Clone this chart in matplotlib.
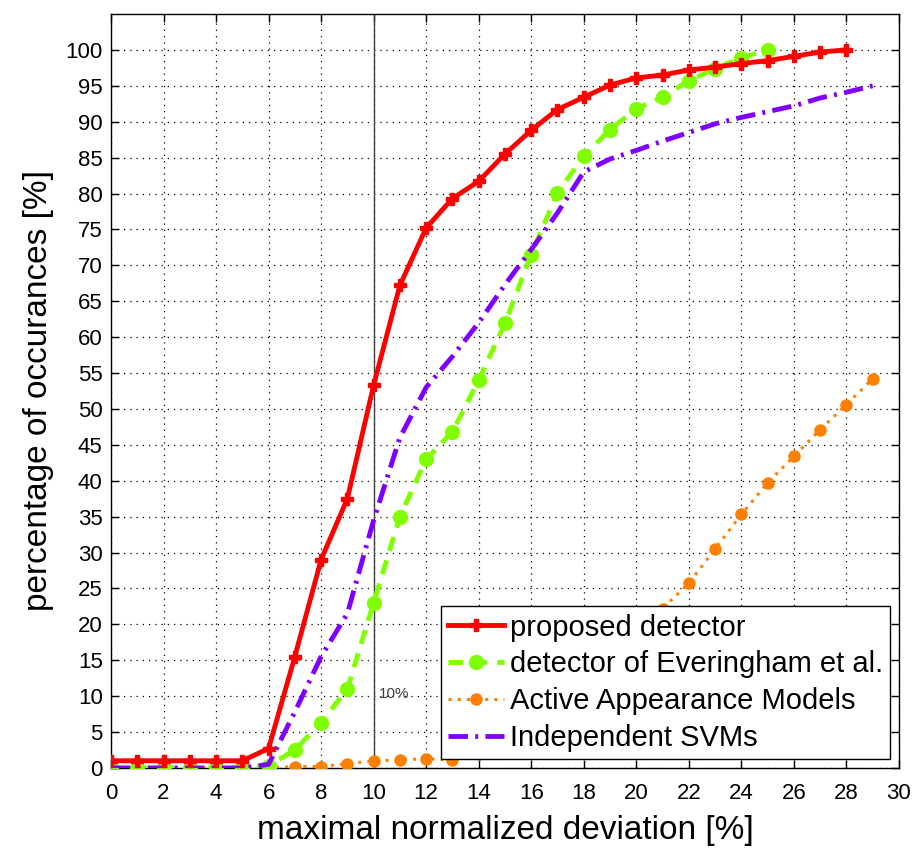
import numpy as np
import matplotlib
matplotlib.use("Agg")
import matplotlib.pyplot as plt

plt.rcParams["font.family"] = ["Liberation Sans", "DejaVu Sans"]

# ── Data ─────────────────────────────────────────────────
x_proposed = list(range(0, 29))
y_proposed = [1, 1, 1, 1, 1, 1, 2.7, 15.5, 29, 37.5, 53.3, 67.2, 75.2, 79.3, 81.7,
              85.5, 88.8, 91.7, 93.4, 95.1, 96.1, 96.5, 97.2, 97.6, 98.1, 98.5,
              99.1, 99.7, 100]

x_evering = list(range(0, 26))
y_evering = [0, 0, 0, 0, 0, 0, 0.3, 2.5, 6.3, 11, 23, 35, 43, 46.8, 54, 61.9,
             71.5, 80.1, 85.2, 88.9, 91.8, 93.4, 95.7, 97.4, 98.9, 100]

x_aam = list(range(0, 30))
y_aam = [0, 0, 0, 0, 0, 0, 0, 0.2, 0.2, 0.6, 1.0, 1.1, 1.3, 1.1, 2, 4, 6.5,
         9.5, 12.5, 15.5, 18.7, 22.2, 25.7, 30.5, 35.3, 39.7, 43.4, 47.1,
         50.6, 54.2]

x_svm = list(range(0, 30))
y_svm = [0, 0, 0, 0, 0, 0, 0.5, 7.8, 15.5, 21.5, 34.5, 46, 53, 57.3, 62, 67.3,
         72.2, 77.3, 83, 84.8, 86, 87.3, 88.5, 89.7, 90.6, 91.4, 92.2, 93.3,
         94.1, 95]

xticks = list(range(0, 31, 2))
yticks = list(range(0, 101, 5))

# ── Figure ───────────────────────────────────────────────
fig = plt.figure(figsize=(9.21, 8.59), dpi=100)
ax = fig.add_axes([0.1205, 0.106, 0.8555, 0.8777])

ax.plot(x_proposed, y_proposed, color="#ff0000", linewidth=3.5,
        marker="P", markersize=9, label="proposed detector", zorder=5)
ax.plot(x_evering, y_evering, color="#80ff00", linewidth=3.5,
        linestyle=(0, (3, 2)), marker="o", markersize=10,
        label="detector of Everingham et al.", zorder=4)
ax.plot(x_aam, y_aam, color="#ff8000", linewidth=2.2,
        linestyle=(0, (1, 2)), marker="o", markersize=8,
        label="Active Appearance Models", zorder=3)
ax.plot(x_svm, y_svm, color="#8000ff", linewidth=3.5,
        linestyle=(0, (4, 1.5, 0.6, 1.5)),
        label="Independent SVMs", zorder=4)

# 10% marker line
ax.axvline(10, color="#404040", linewidth=1.0, zorder=2)
ax.text(10.2, 10.3, "10%", fontsize=11, color="#404040", va="center")

ax.set_xlim(0, 30)
ax.set_ylim(0, 105)
ax.set_xticks(xticks)
ax.set_yticks(yticks)
ax.tick_params(direction="in", top=True, right=True, labelsize=16,
               length=6, width=1)
ax.tick_params(axis="x", pad=11)
ax.tick_params(axis="y", pad=6)
ax.grid(True, linestyle=(0, (1, 4)), color="black", linewidth=0.9)
ax.set_axisbelow(True)

ax.set_xlabel("maximal normalized deviation [%]", fontsize=24, labelpad=8)
ax.set_ylabel("percentage of occurances [%]", fontsize=24, labelpad=8)

leg = ax.legend(loc="lower right", fontsize=21, frameon=True, fancybox=False,
                edgecolor="black", framealpha=1, borderpad=0.25,
                labelspacing=0.3, handlelength=1.9, handletextpad=0.2,
                borderaxespad=0.3)
leg.get_frame().set_linewidth(1.0)
leg.set_zorder(10)

for s in ax.spines.values():
    s.set_linewidth(1.0)

plt.savefig("out.png", dpi=100)
